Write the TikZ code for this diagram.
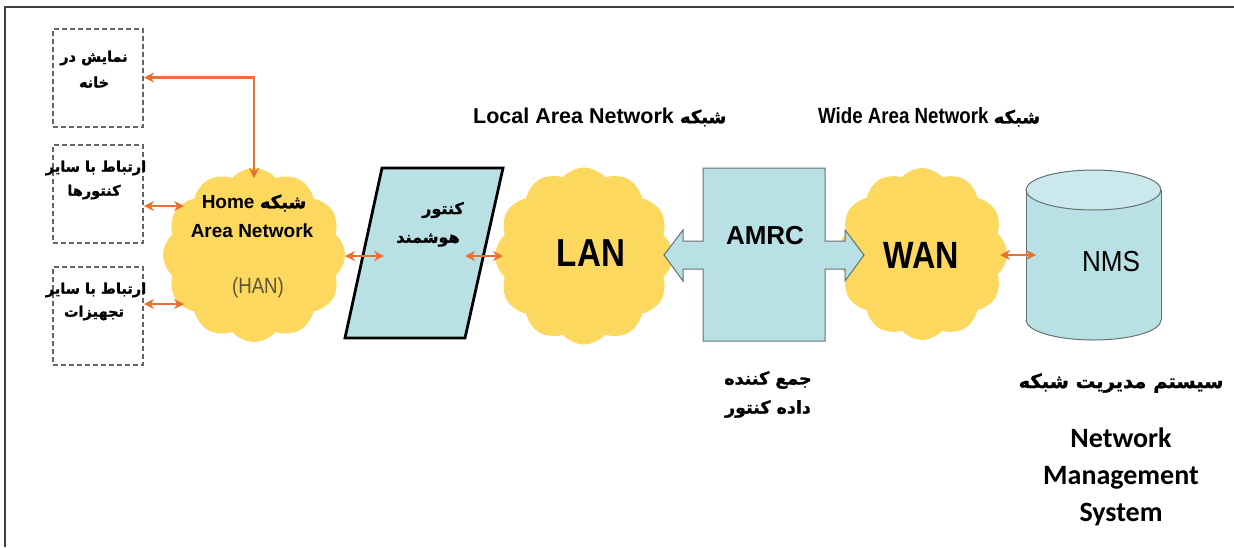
\documentclass[tikz,border=0pt]{standalone}
\usepackage{fontspec}
\setmainfont{Liberation Sans}
\newfontfamily\arabicfont[Script=Arabic, BoldFeatures={FakeBold=1.3}]{DejaVu Sans}
\newfontfamily\narrowfont[FakeStretch=0.85]{Liberation Sans}
\newfontfamily\calfont{Carlito}
\TeXXeTstate=1
\usetikzlibrary{shapes.symbols,arrows.meta}
\definecolor{cloudy}{RGB}{253,216,94}
\definecolor{lblue}{RGB}{185,224,228}
\definecolor{ltop}{RGB}{203,233,237}
\definecolor{orng}{RGB}{232,112,48}
\definecolor{hangray}{RGB}{92,84,52}
\definecolor{edgegray}{RGB}{100,112,114}
\newcommand{\fa}[1]{{\arabicfont\bfseries\beginR #1\endR}}
\begin{document}
\begin{tikzpicture}[x=1pt,y=-1pt,
  dbox/.style={draw=black!60, dash pattern=on 5pt off 3pt, line width=2pt,
    minimum width=90pt, minimum height=98pt, inner sep=0pt},
  fatext/.style={font=\fontsize{14.5}{17}\selectfont, inner sep=0pt, text=black},
  cloudnode/.style={cloud, cloud puffs=12, cloud puff arc=100, fill=cloudy, draw=none, inner sep=0pt},
  biarrow/.style={draw=orng, line width=2.2pt,
    {Stealth[length=10pt,width=10pt]}-{Stealth[length=10pt,width=10pt]}},
  lbl/.style={inner sep=0pt, text=black}]
\useasboundingbox (0,0) rectangle (1234,547);
% frame
\draw[line width=2pt, black!75] (5,547) -- (5,7) -- (1234,7);

% dashed boxes
\node[dbox] (box1) at (98,77.5) {};
\node[dbox] (box2) at (98,194) {};
\node[dbox] (box3) at (98,316) {};
\node[fatext] (b1a) at (94,58) {\fa{نمایش در}};
\node[fatext] (b1b) at (94,82) {\fa{خانه}};
\node[fatext] (b2a) at (96,168) {\fa{ارتباط با سایر}};
\node[fatext] (b2b) at (94,192) {\fa{کنتورها}};
\node[fatext] (b3a) at (96,290) {\fa{ارتباط با سایر}};
\node[fatext] (b3b) at (94,313) {\fa{تجهیزات}};

% clouds
\node[cloudnode, minimum width=182pt, minimum height=174pt] (han) at (254,255) {};
\node[cloudnode, minimum width=178pt, minimum height=177pt] (lan) at (584,256) {};
\node[cloudnode, minimum width=170pt, minimum height=172pt] (wan) at (922,254) {};

\node[lbl, font=\fontsize{19}{22}\selectfont\bfseries] (home) at (254,203)
  {Home \fa{\fontsize{18}{20}\selectfont شبکه}};
\node[lbl, font=\fontsize{19}{22}\selectfont\bfseries] (area) at (252,231) {Area Network};
\node[lbl, font=\narrowfont\fontsize{22}{26}\selectfont, text=hangray] (hanlbl) at (258,288) {(HAN)};
\node[lbl, font=\narrowfont\fontsize{39}{44}\selectfont\bfseries] (lanlbl) at (591,253) {LAN};
\node[lbl, font=\narrowfont\fontsize{38}{44}\selectfont\bfseries] (wanlbl) at (921,255) {WAN};

% smart meter parallelogram
\coordinate (p1) at (382,168);
\coordinate (p2) at (503,168);
\coordinate (p3) at (465,338);
\coordinate (p4) at (345,338);
\draw[fill=lblue, line width=2.8pt, line join=miter] (p1) -- (p2) -- (p3) -- (p4) -- cycle;
\node[fatext, font=\fontsize{16}{18}\selectfont] (m1) at (443,210) {\fa{کنتور}};
\node[fatext, font=\fontsize{16}{18}\selectfont] (m2) at (428,240) {\fa{هوشمند}};

% AMRC block with double arrow
\draw[fill=lblue, draw=edgegray, line width=1pt]
  (664,255) -- (683,230) -- (683,241) -- (703,241) -- (703,168) -- (825,168)
  -- (825,241) -- (845,241) -- (845,230) -- (864,255) -- (845,281) -- (845,269)
  -- (825,269) -- (825,341) -- (703,341) -- (703,269) -- (683,269) -- (683,281) -- cycle;
\node[lbl, font=\fontsize{26}{30}\selectfont\bfseries] (amrc) at (765,236) {AMRC};

% NMS cylinder
\fill[lblue] (1026,190) rectangle (1161,320);
\fill[lblue] (1093.5,320) ellipse [x radius=67.5, y radius=20];
\draw[edgegray, line width=1pt] (1026,190) -- (1026,320);
\draw[edgegray, line width=1pt] (1161,190) -- (1161,320);
\begin{scope}
  \clip (1015,320) rectangle (1170,350);
  \draw[edgegray, line width=1pt] (1093.5,320) ellipse [x radius=67.5, y radius=20];
\end{scope}
\draw[fill=ltop, draw=edgegray, line width=1pt] (1093.5,190) ellipse [x radius=67.5, y radius=20];
\node[lbl, font=\fontsize{29}{33}\selectfont] (nms) at (1111,262) {\scalebox{0.9}[1]{NMS}};

% connectors
\coordinate (hantop) at (254,178);
\coordinate (hanl1) at (184,206);
\coordinate (hanl2) at (184,304);
\coordinate (hanr) at (345,256);
\coordinate (meterl) at (384,256);
\coordinate (meterr) at (465,256);
\coordinate (lanl) at (503,256);
\coordinate (wanr) at (1000,255);
\coordinate (nmsl) at (1036,255);
\draw[biarrow] (box1.east) -| (hantop);
\draw[biarrow] ([yshift=-12pt]box2.east) -- (hanl1);
\draw[biarrow] ([yshift=12pt]box3.east) -- (hanl2);
\draw[biarrow] (hanr) -- (meterl);
\draw[biarrow] (meterr) -- (lanl);
\draw[biarrow] (wanr) -- (nmsl);

% titles
\node[lbl, font=\fontsize{21.5}{25}\selectfont\bfseries, anchor=west] (lantitle) at (473,117)
  {Local Area Network \fa{\fontsize{18}{20}\selectfont شبکه}};
\node[lbl, font=\narrowfont\fontsize{22}{25}\selectfont\bfseries, anchor=west] (wantitle) at (818,117)
  {Wide Area Network \fa{\fontsize{18}{20}\selectfont شبکه}};

% bottom labels
\node[fatext, font=\fontsize{17.5}{20}\selectfont] (dc1) at (768,380) {\fa{جمع کننده}};
\node[fatext, font=\fontsize{17.5}{20}\selectfont] (dc2) at (768,409) {\fa{داده کنتور}};
\node[lbl, font=\fontsize{19.5}{22}\selectfont] (nmsfa) at (1121,383) {\fa{سیستم مدیریت شبکه}};
\node[lbl, font=\calfont\fontsize{28}{37}\selectfont\bfseries, align=center] (nmsen) at (1121,477)
  {Network\\Management\\System};
\end{tikzpicture}
\end{document}
